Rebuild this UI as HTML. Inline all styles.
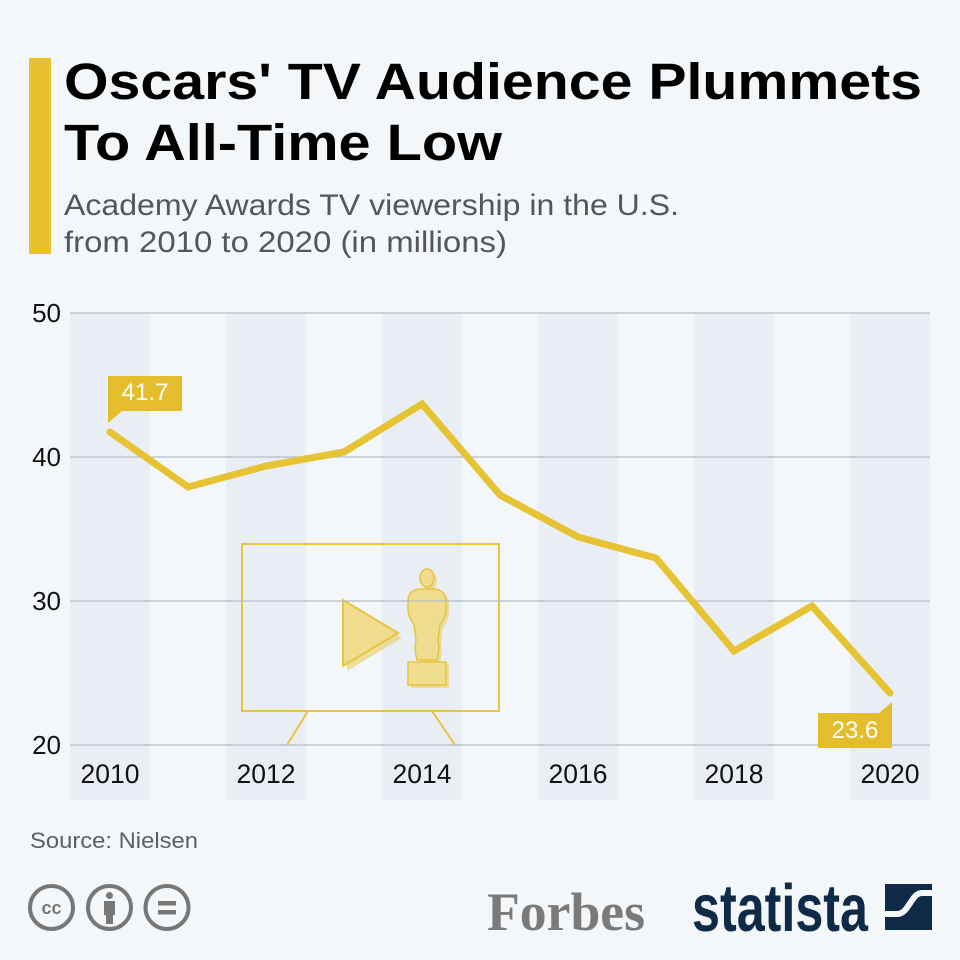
<!DOCTYPE html>
<html>
<head>
<meta charset="utf-8">
<style>
  html, body { margin:0; padding:0; background:#f4f7fa; }
  body { width:960px; height:960px; overflow:hidden; }
  svg { display:block; }
  text { font-family: "Liberation Sans", sans-serif; }
</style>
</head>
<body>
<svg width="960" height="960" viewBox="0 0 960 960" xmlns="http://www.w3.org/2000/svg">
  <rect x="0" y="0" width="960" height="960" fill="#f4f7fa"/>

  <!-- Title bar -->
  <rect x="29" y="58" width="22" height="196" fill="#e8c22e"/>

  <!-- Title -->
  <text x="64" y="99" font-size="51" font-weight="bold" fill="#000" textLength="858" lengthAdjust="spacingAndGlyphs">Oscars' TV Audience Plummets</text>
  <text x="64" y="160" font-size="51" font-weight="bold" fill="#000" textLength="438" lengthAdjust="spacingAndGlyphs">To All-Time Low</text>

  <!-- Subtitle -->
  <text x="64" y="215" font-size="30" fill="#51575e" textLength="615" lengthAdjust="spacingAndGlyphs">Academy Awards TV viewership in the U.S.</text>
  <text x="64" y="252" font-size="30" fill="#51575e" textLength="443" lengthAdjust="spacingAndGlyphs">from 2010 to 2020 (in millions)</text>

  <!-- Column bands -->
  <g fill="#e9eef5">
    <rect x="70" y="313" width="80" height="487"/>
    <rect x="226" y="313" width="80" height="487"/>
    <rect x="382" y="313" width="80" height="487"/>
    <rect x="538" y="313" width="80" height="487"/>
    <rect x="694" y="313" width="80" height="487"/>
    <rect x="850" y="313" width="80" height="487"/>
  </g>

  <!-- TV icon -->
  <g stroke="#e8c53a" stroke-width="2" fill="none">
    <rect x="242" y="544" width="257" height="167"/>
    <line x1="308" y1="711" x2="287" y2="745"/>
    <line x1="432" y1="711" x2="455" y2="745"/>
  </g>
  <!-- Play triangle -->
  <polygon points="347,605 347,671 402,638" fill="#ecd68a" opacity="0.8"/>
  <polygon points="343,600 343,666 398,633" fill="#f0dc8e" stroke="#e5c53a" stroke-width="2"/>
  <!-- Statue -->
  <g transform="translate(3,3)" fill="#ecd68a" opacity="0.8">
    <ellipse cx="427" cy="578" rx="7" ry="9"/>
    <path d="M420,589 Q409,590 408,600 L408,612 Q410,620 414,624 L416,640 Q414,650 417,660 L437,660 Q440,650 438,640 L440,624 Q444,620 446,612 L446,600 Q445,590 434,589 Z"/>
    <rect x="408" y="662" width="38" height="23"/>
  </g>
  <g fill="#f0dc8e" stroke="#e5c53a" stroke-width="1.5">
    <ellipse cx="427" cy="578" rx="7" ry="9"/>
    <path d="M420,589 Q409,590 408,600 L408,612 Q410,620 414,624 L416,640 Q414,650 417,660 L437,660 Q440,650 438,640 L440,624 Q444,620 446,612 L446,600 Q445,590 434,589 Z"/>
    <rect x="408" y="662" width="38" height="23"/>
  </g>

  <!-- Gridlines -->
  <g stroke="#b5bcc5" stroke-width="1.3">
    <line x1="70" y1="313" x2="930" y2="313"/>
    <line x1="70" y1="457" x2="930" y2="457"/>
    <line x1="70" y1="601" x2="930" y2="601"/>
    <line x1="70" y1="745" x2="930" y2="745"/>
  </g>

  <!-- Y labels -->
  <g font-size="26" fill="#111" text-anchor="end">
    <text x="61" y="322">50</text>
    <text x="61" y="466">40</text>
    <text x="61" y="610">30</text>
    <text x="61" y="754">20</text>
  </g>

  <!-- X labels -->
  <g font-size="26.5" fill="#111" text-anchor="middle">
    <text x="110" y="783">2010</text>
    <text x="266" y="783">2012</text>
    <text x="422" y="783">2014</text>
    <text x="578" y="783">2016</text>
    <text x="734" y="783">2018</text>
    <text x="890" y="783">2020</text>
  </g>

  <!-- Data line -->
  <polyline fill="none" stroke="#e6c333" stroke-width="7" stroke-linejoin="miter" stroke-linecap="round"
    points="110,432 188,487 266,466 344,452 422,404 500,495 578,537 656,558 734,651 812,606 890,693"/>

  <!-- Label 41.7 -->
  <path d="M108,376 L182,376 L182,411 L122,411 L108,423 Z" fill="#e3bd2b"/>
  <text x="145" y="400" font-size="24" fill="#fff" text-anchor="middle">41.7</text>

  <!-- Label 23.6 -->
  <path d="M818,713 L879,713 L892,702 L892,748 L818,748 Z" fill="#e3bd2b"/>
  <text x="855" y="738" font-size="24" fill="#fff" text-anchor="middle">23.6</text>

  <!-- Source -->
  <text x="30" y="848" font-size="22" fill="#5a5f66" textLength="168" lengthAdjust="spacingAndGlyphs">Source: Nielsen</text>

  <!-- CC icons -->
  <g stroke="#777" stroke-width="4" fill="none">
    <circle cx="51.5" cy="907.5" r="21.5"/>
    <circle cx="109.5" cy="907.5" r="21.5"/>
    <circle cx="167" cy="907.5" r="21.5"/>
  </g>
  <text x="51.5" y="914" font-size="18" font-weight="bold" fill="#777" text-anchor="middle">cc</text>
  <circle cx="109.5" cy="895.5" r="3.5" fill="#777"/>
  <rect x="104" y="901" width="11" height="14" fill="#777"/>
  <rect x="106" y="913" width="7" height="11" fill="#777"/>
  <rect x="158" y="901" width="18" height="4.5" fill="#777"/>
  <rect x="158" y="910" width="18" height="4.5" fill="#777"/>

  <!-- Forbes -->
  <text x="487" y="930" font-size="54" font-weight="bold" fill="#7a7a7a" textLength="158" lengthAdjust="spacingAndGlyphs" style="font-family:'Liberation Serif', serif">Forbes</text>

  <!-- statista -->
  <g transform="translate(692,931) scale(1,1.2)">
    <text x="0" y="0" font-size="56" font-weight="bold" fill="#0f2a47" textLength="176" lengthAdjust="spacingAndGlyphs">statista</text>
  </g>
  <rect x="885" y="884" width="47" height="46" fill="#0f2a47"/>
  <path d="M884,914 L897,914 C909,914 911,893 922,893 L933,893" fill="none" stroke="#f4f7fa" stroke-width="6"/>
</svg>
</body>
</html>
